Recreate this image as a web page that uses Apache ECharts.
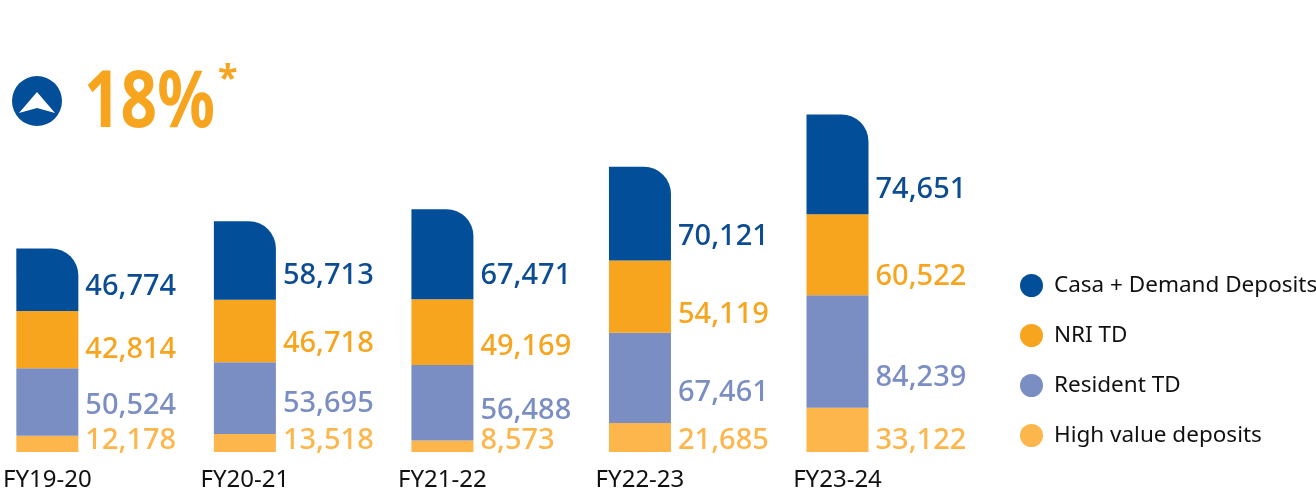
<!DOCTYPE html>
<html>
<head>
<meta charset="utf-8">
<script src="https://cdn.jsdelivr.net/npm/echarts@6/dist/echarts.min.js"></script>
<style>
  html, body { margin: 0; padding: 0; background: #fff; }
  #chart { width: 1316px; height: 493px; }
</style>
</head>
<body>
<div id="chart"></div>
<script>
const years = ['FY19-20', 'FY20-21', 'FY21-22', 'FY22-23', 'FY23-24'];
const casaDemand = [46774, 58713, 67471, 70121, 74651];
const nriTd = [42814, 46718, 49169, 54119, 60522];
const residentTd = [50524, 53695, 56488, 67461, 84239];
const highValue = [12178, 13518, 8573, 21685, 33122];
const growthText = '18%';

const chart = echarts.init(document.getElementById('chart'));

const FONT = '"Noto Sans", sans-serif';
const fmt = p => p.value.toLocaleString('en-US');

// label sits right of the bar, a bit above the segment bottom
function segLabel(color, dy) {
    return {
        show: true,
        position: ['100%', '100%'],
        offset: [7, dy],
        align: 'left',
        verticalAlign: 'middle',
        color: color,
        fontFamily: FONT,
        fontSize: 29,
        fontWeight: 500,
        formatter: fmt
    };
}

function bar(name, data, color, labelColor, dy, radius) {
    return {
        name: name,
        type: 'bar',
        stack: 'dep',
        data: data,
        barWidth: 62,
        itemStyle: { color: color, borderRadius: radius || 0 },
        label: segLabel(labelColor, dy),
        emphasis: { disabled: true },
        silent: true
    };
}

const option = {
    animation: false,
    grid: { left: 47, right: 478.5, top: 51, bottom: 41 },
    legend: {
        orient: 'vertical',
        left: 1015,
        top: 269,
        icon: 'circle',
        itemWidth: 23,
        itemHeight: 23,
        itemGap: 27,
        textStyle: { fontFamily: FONT, fontSize: 22.5, color: '#111', padding: [0, 0, 0, 6] },
        data: ['Casa + Demand Deposits', 'NRI TD', 'Resident TD', 'High value deposits']
    },
    xAxis: {
        type: 'category',
        data: years,
        boundaryGap: false,
        axisLine: { show: false },
        axisTick: { show: false },
        axisLabel: { fontFamily: FONT, fontSize: 24, color: '#111', margin: 16 }
    },
    yAxis: {
        type: 'value',
        min: 0,
        max: 300000,
        show: false,
        splitLine: { show: false }
    },
    graphic: [
        { type: 'circle', shape: { cx: 37, cy: 101, r: 25 }, style: { fill: '#034e98' } },
        { type: 'polygon', shape: { points: [[37, 92], [55, 113], [37, 108], [19, 113]] }, style: { fill: '#fff' } },
        {
            type: 'text', left: 84, top: 66,
            style: { text: growthText, fill: '#f7a51f', font: 'bold 78px "Noto Sans", sans-serif' },
            scaleX: 0.82
        },
        {
            type: 'text', left: 218, top: 62,
            style: { text: '*', fill: '#f7a51f', font: 'bold 36px "Noto Sans", sans-serif' }
        }
    ],
    series: [
        bar('High value deposits', highValue, '#fdb64b', '#fdb64b', -11),
        bar('Resident TD', residentTd, '#7a8ec3', '#7a8ec3', -30),
        bar('NRI TD', nriTd, '#f7a51e', '#f7a51e', -18),
        bar('Casa + Demand Deposits', casaDemand, '#034e98', '#0b4c93', -24, [0, 27, 0, 0])
    ]
};

chart.setOption(option);
</script>
</body>
</html>
